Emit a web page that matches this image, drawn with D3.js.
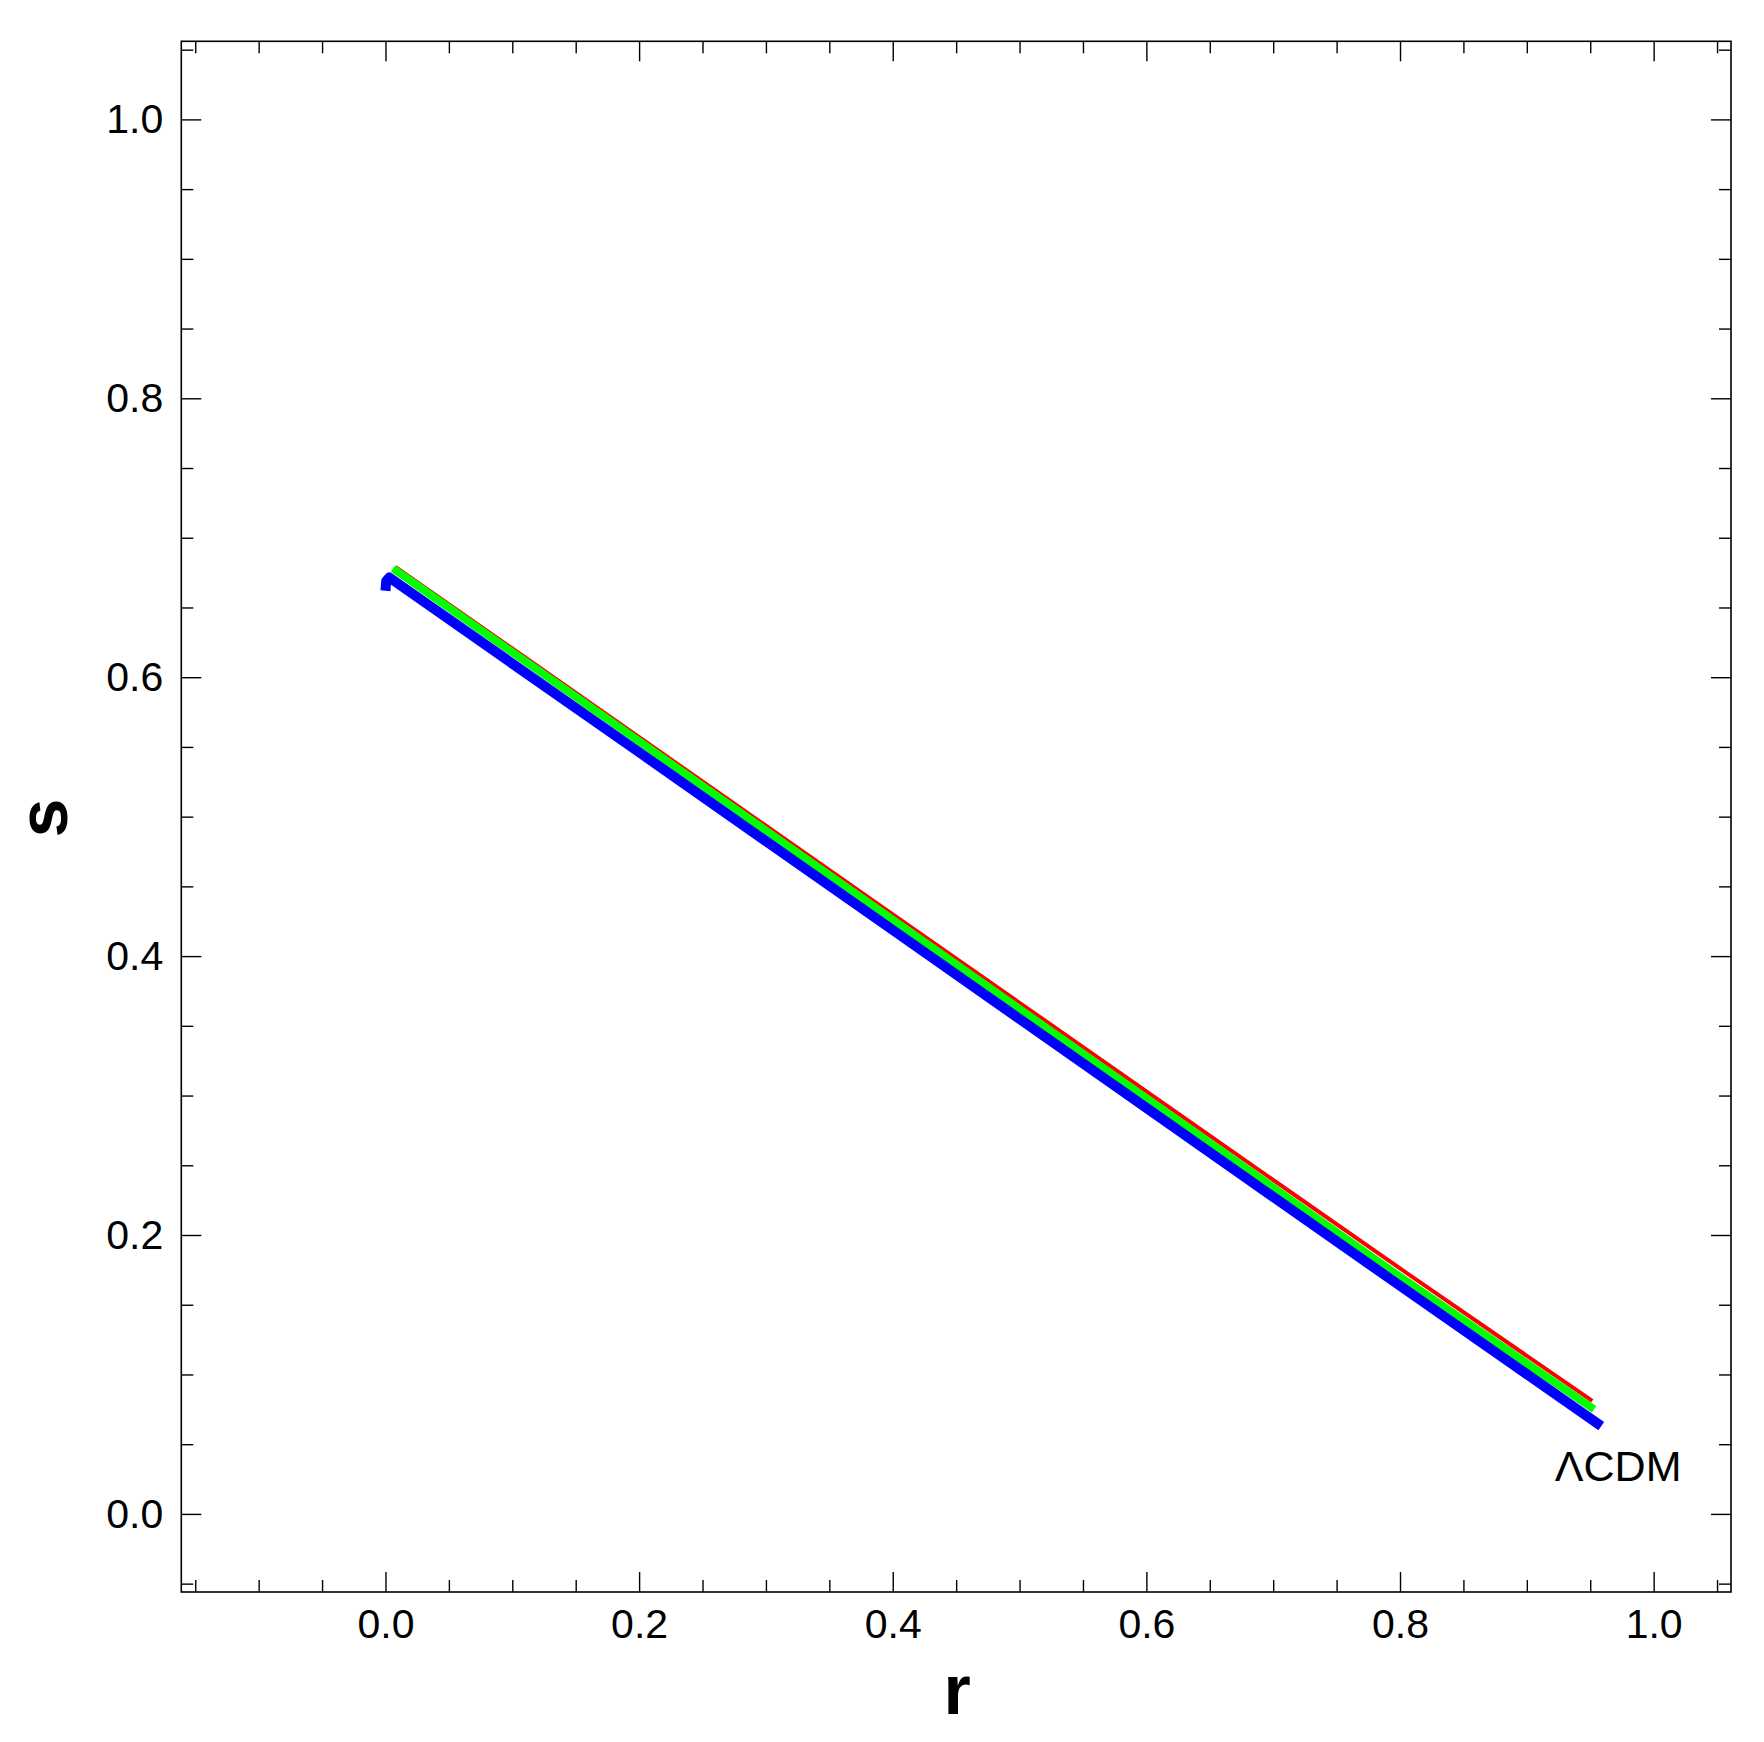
<!DOCTYPE html>
<html>
<head>
<meta charset="utf-8">
<script src="https://cdnjs.cloudflare.com/ajax/libs/d3/7.8.5/d3.min.js"></script>
<style>
  body{margin:0;background:#fff;}
  text{font-family:"Liberation Sans",Arial,sans-serif;}
</style>
</head>
<body>
<script>
// statefinder trajectories (r, s)
var redR   = [0.008, 0.2, 0.4, 0.6, 0.8, 0.9516];
var redS   = [0.679, 0.557, 0.430, 0.303, 0.176, 0.081];
var greenR = [0.006, 0.2, 0.4, 0.6, 0.8, 0.953];
var greenS = [0.678, 0.554, 0.426, 0.298, 0.170, 0.075];
var blueR  = [0.0, 0.0006, 0.003, 0.2, 0.4, 0.6, 0.8, 0.9587];
var blueS  = [0.662, 0.669, 0.6715, 0.5462, 0.4187, 0.2911, 0.1636, 0.063];
var majorTicks = [0.0, 0.2, 0.4, 0.6, 0.8, 1.0];
var labelText = 'ΛCDM';

var width=1764, height=1742;
var plotLeft=181.3, plotRight=1731, plotTop=41.3, plotBottom=1592;

var svg=d3.select('body').append('svg')
  .attr('width',width)
  .attr('height',height);

var x=d3.scaleLinear().domain([-0.161,1.061]).range([plotLeft,plotRight]);
var y=d3.scaleLinear().domain([-0.056,1.056]).range([plotBottom,plotTop]);

var minorX=d3.range(-0.15,1.06,0.05).map(function(d){return Math.round(d*100)/100;})
  .filter(function(d){return majorTicks.indexOf(d)<0;});
var minorY=d3.range(-0.05,1.06,0.05).map(function(d){return Math.round(d*100)/100;})
  .filter(function(d){return majorTicks.indexOf(d)<0;});

function styleTicks(g){
  g.select('.domain').remove();
  g.selectAll('line').attr('stroke','#000').attr('stroke-width',1.4);
  g.selectAll('text').remove();
}

// tick marks, inward on all four sides
svg.append('g').attr('transform','translate(0,'+plotBottom+')')
  .call(d3.axisBottom(x).tickValues(majorTicks).tickSize(-20)).call(styleTicks);
svg.append('g').attr('transform','translate(0,'+plotBottom+')')
  .call(d3.axisBottom(x).tickValues(minorX).tickSize(-12)).call(styleTicks);
svg.append('g').attr('transform','translate(0,'+plotTop+')')
  .call(d3.axisTop(x).tickValues(majorTicks).tickSize(-20)).call(styleTicks);
svg.append('g').attr('transform','translate(0,'+plotTop+')')
  .call(d3.axisTop(x).tickValues(minorX).tickSize(-12)).call(styleTicks);
svg.append('g').attr('transform','translate('+plotLeft+',0)')
  .call(d3.axisLeft(y).tickValues(majorTicks).tickSize(-20)).call(styleTicks);
svg.append('g').attr('transform','translate('+plotLeft+',0)')
  .call(d3.axisLeft(y).tickValues(minorY).tickSize(-12)).call(styleTicks);
svg.append('g').attr('transform','translate('+plotRight+',0)')
  .call(d3.axisRight(y).tickValues(majorTicks).tickSize(-20)).call(styleTicks);
svg.append('g').attr('transform','translate('+plotRight+',0)')
  .call(d3.axisRight(y).tickValues(minorY).tickSize(-12)).call(styleTicks);

// tick labels
var fmt=d3.format('.1f');
var xl=svg.append('g').attr('transform','translate(0,'+plotBottom+')')
  .call(d3.axisBottom(x).tickValues(majorTicks).tickSize(0).tickPadding(17).tickFormat(fmt));
xl.select('.domain').remove();
xl.selectAll('text').attr('font-size',41).attr('fill','#000')
  .style('font-family','"Liberation Sans",Arial,sans-serif');
var yl=svg.append('g').attr('transform','translate('+plotLeft+',0)')
  .call(d3.axisLeft(y).tickValues(majorTicks).tickSize(0).tickPadding(18).tickFormat(fmt));
yl.select('.domain').remove();
yl.selectAll('text').attr('font-size',41).attr('fill','#000')
  .style('font-family','"Liberation Sans",Arial,sans-serif');

// frame
svg.append('rect')
  .attr('x',plotLeft).attr('y',plotTop)
  .attr('width',plotRight-plotLeft).attr('height',plotBottom-plotTop)
  .attr('fill','none').attr('stroke','#000').attr('stroke-width',1.6);

// curves
var line=d3.line()
  .x(function(d){return x(d[0]);})
  .y(function(d){return y(d[1]);});

var series=[
  {r:redR,s:redS,color:'#ff0000',w:4},
  {r:greenR,s:greenS,color:'#00ff00',w:8},
  {r:blueR,s:blueS,color:'#0000ff',w:10}
];
series.forEach(function(sr){
  var pts=sr.r.map(function(v,i){return [v,sr.s[i]];});
  svg.append('path')
    .datum(pts)
    .attr('d',line)
    .attr('fill','none')
    .attr('stroke',sr.color)
    .attr('stroke-width',sr.w)
    .attr('stroke-linejoin','round');
});

// annotation
svg.append('text')
  .attr('x',x(0.972)).attr('y',y(0.0235))
  .attr('text-anchor','middle')
  .attr('font-size',43)
  .text(labelText);

// axis titles
svg.append('text')
  .attr('x',957).attr('y',1714)
  .attr('text-anchor','middle')
  .attr('font-size',70).attr('font-weight','bold')
  .text('r');
svg.append('text')
  .attr('transform','translate(67,818) rotate(-90)')
  .attr('text-anchor','middle')
  .attr('font-size',70).attr('font-weight','bold')
  .text('s');
</script>
</body>
</html>
